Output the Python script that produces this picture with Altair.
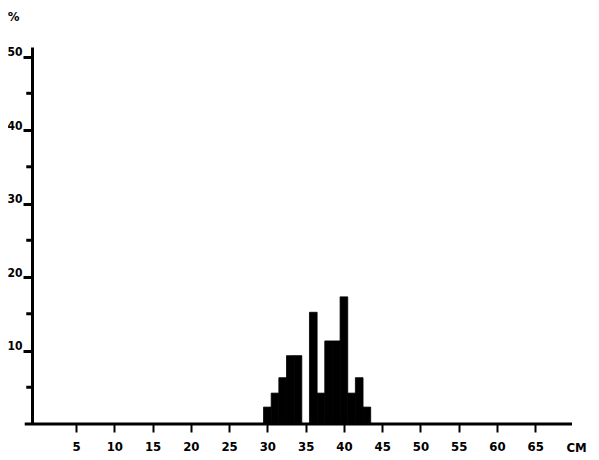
import altair as alt
import pandas as pd

# Data (histogram of lengths, % per cm class)
cm_classes = [30, 31, 32, 33, 34, 35, 36, 37, 38, 39, 40, 41, 42, 43]
percent = [2.3, 4.2, 6.3, 9.3, 9.3, 0.0, 15.2, 4.2, 11.3, 11.3, 17.3, 4.2, 6.3, 2.3]

x_ticks = [5, 10, 15, 20, 25, 30, 35, 40, 45, 50, 55, 60, 65]
y_major = [10, 20, 30, 40, 50]
y_minor = [5, 15, 25, 35, 45]

X_MIN, X_MAX = -0.75, 69.8
Y_MIN, Y_MAX = 0, 51.3
FONT = "Liberation Sans Narrow, DejaVu Sans Condensed, Liberation Sans"

bars_df = pd.DataFrame({
    "cm": cm_classes,
    "pct": percent,
})
bars_df["x0"] = bars_df["cm"] - 0.5
bars_df["x1"] = bars_df["cm"] + 0.5
bars_df["zero"] = 0.0

xscale = alt.Scale(domain=[X_MIN, X_MAX], nice=False, zero=False)
yscale = alt.Scale(domain=[Y_MIN, Y_MAX], nice=False)

bars = alt.Chart(bars_df).mark_bar(color="black", stroke="black", strokeWidth=0.8).encode(
    x=alt.X("x0:Q", scale=xscale,
            axis=alt.Axis(values=x_ticks, domain=False, grid=False,
                          tickSize=8, tickWidth=2, tickColor="black",
                          labelFont=FONT, labelFontSize=13, labelFontWeight="bold",
                          labelColor="black", labelPadding=8,
                          title="CM", titleFont=FONT, titleFontSize=13,
                          titleFontWeight="bold", titleColor="black",
                          titleX=544, titleY=23, titleAlign="center",
                          titleBaseline="middle", titleAngle=0)),
    x2="x1:Q",
    y=alt.Y("pct:Q", scale=yscale,
            axis=alt.Axis(values=y_major, grid=False,
                          domainWidth=3, domainColor="black",
                          tickSize=9, tickWidth=3, tickColor="black",
                          labelFont=FONT, labelFontSize=12, labelFontWeight="bold",
                          labelColor="black", labelPadding=1, labelOffset=-5,
                          title="%", titleFont=FONT, titleFontSize=13,
                          titleFontWeight="bold", titleColor="black",
                          titleAngle=0, titleX=-19, titleY=-31,
                          titleAlign="center", titleBaseline="middle")),
    y2="zero:Q",
)

# baseline (x-axis line), extends slightly left of the y axis
base_df = pd.DataFrame({"a": [-1.7], "b": [X_MAX], "y": [0]})
baseline = alt.Chart(base_df).mark_rule(color="black", strokeWidth=3).encode(
    x=alt.X("a:Q", scale=xscale), x2="b:Q", y=alt.Y("y:Q", scale=yscale)
)

# minor ticks on the y axis
minor_df = pd.DataFrame({"v": y_minor})
minor_df["a"] = -1.5
minor_df["b"] = X_MIN
minor = alt.Chart(minor_df).mark_rule(color="black", strokeWidth=3).encode(
    x=alt.X("a:Q", scale=xscale), x2="b:Q", y=alt.Y("v:Q", scale=yscale)
)

chart = alt.layer(bars, baseline, minor).properties(
    width=540, height=377,
    autosize=alt.AutoSizeParams(type="none"),
    padding={"left": 24, "top": 39, "right": 19, "bottom": 28},
    background="white",
).configure_view(stroke=None)

chart.save("out.html", embed_options={"renderer": "svg", "actions": False})
